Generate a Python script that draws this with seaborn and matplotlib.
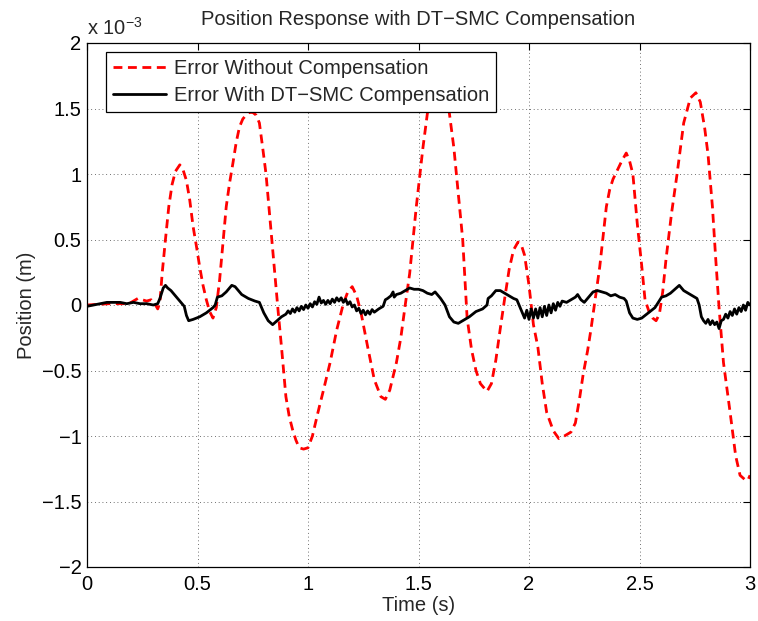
import numpy as np
import pandas as pd
import matplotlib
matplotlib.use("Agg")
import matplotlib.pyplot as plt
import seaborn as sns
from matplotlib.ticker import FuncFormatter, MultipleLocator

# ---------------- data (position error, units of 1e-3 m) ----------------
red_t = [0.00, 0.05, 0.10, 0.15, 0.19, 0.21, 0.23, 0.25, 0.27, 0.29, 0.31, 0.32, 0.33,
         0.34, 0.355, 0.37, 0.385, 0.40, 0.42, 0.435, 0.45, 0.465, 0.48, 0.495, 0.51,
         0.525, 0.54, 0.555, 0.57, 0.585, 0.60, 0.615, 0.63, 0.645, 0.66, 0.675, 0.69,
         0.705, 0.72, 0.735, 0.75, 0.765, 0.78, 0.795, 0.81, 0.83, 0.85, 0.865, 0.88,
         0.90, 0.915, 0.93, 0.945, 0.96, 0.98, 1.00, 1.02, 1.045, 1.07, 1.10, 1.13,
         1.16, 1.18, 1.20, 1.22, 1.24, 1.27, 1.30, 1.33, 1.35, 1.37, 1.40, 1.42, 1.44,
         1.46, 1.49, 1.52, 1.54, 1.565, 1.59, 1.615, 1.64, 1.66, 1.68, 1.70, 1.72, 1.74,
         1.76, 1.78, 1.81, 1.83, 1.85, 1.87, 1.89, 1.91, 1.93, 1.95, 1.965, 1.98, 2.00,
         2.02, 2.04, 2.06, 2.08, 2.11, 2.135, 2.16, 2.19, 2.21, 2.23, 2.245, 2.265, 2.28,
         2.30, 2.32, 2.335, 2.35, 2.365, 2.38, 2.40, 2.42, 2.44, 2.455, 2.47, 2.49, 2.51,
         2.525, 2.545, 2.56, 2.575, 2.59, 2.605, 2.62, 2.645, 2.67, 2.70, 2.73, 2.755,
         2.775, 2.795, 2.81, 2.83, 2.845, 2.86, 2.88, 2.91, 2.935, 2.955, 2.975, 2.99, 3.00]
red_v = [0.0, 0.005, 0.01, 0.01, 0.01, 0.03, 0.05, 0.04, 0.03, 0.04, 0.0, -0.03, 0.02,
         0.24, 0.5, 0.75, 0.92, 1.02, 1.07, 1.03, 0.95, 0.8, 0.6, 0.45, 0.29,
         0.15, 0.04, -0.05, -0.1, -0.02, 0.19, 0.47, 0.75, 0.93, 1.08, 1.24, 1.36,
         1.42, 1.45, 1.47, 1.47, 1.45, 1.39, 1.2, 1.0, 0.62, 0.24, -0.05, -0.32,
         -0.7, -0.85, -0.95, -1.03, -1.09, -1.1, -1.09, -1.0, -0.82, -0.65, -0.44, -0.19,
         0.01, 0.1, 0.14, 0.07, -0.06, -0.32, -0.57, -0.7, -0.72, -0.65, -0.44, -0.25, 0.0,
         0.24, 0.75, 1.2, 1.46, 1.68, 1.77, 1.7, 1.46, 1.2, 0.85, 0.5, -0.1, -0.34,
         -0.5, -0.6, -0.66, -0.6, -0.42, -0.18, 0.05, 0.27, 0.42, 0.48, 0.46, 0.38, 0.15,
         -0.15, -0.32, -0.6, -0.82, -0.96, -1.02, -1.0, -0.97, -0.9, -0.7, -0.53, -0.35, -0.19,
         0.05, 0.29, 0.52, 0.75, 0.88, 0.96, 1.03, 1.1, 1.16, 1.1, 1.0, 0.62, 0.3,
         0.04, -0.06, -0.1, -0.12, -0.07, 0.1, 0.35, 0.7, 1.0, 1.39, 1.58, 1.62,
         1.55, 1.35, 1.15, 0.75, 0.35, -0.02, -0.44, -0.82, -1.15, -1.3, -1.33, -1.34, -1.3]

blk_t = [0.00, 0.03, 0.06, 0.09, 0.12, 0.15, 0.18, 0.21, 0.24, 0.27, 0.30, 0.32, 0.33,
         0.345, 0.355, 0.365, 0.38, 0.40, 0.42, 0.44, 0.45, 0.46, 0.48, 0.51, 0.54, 0.57,
         0.58, 0.59, 0.61, 0.63, 0.645, 0.655, 0.67, 0.70, 0.73, 0.76, 0.78, 0.80, 0.82,
         0.84, 0.86, 0.88,
         0.90, 0.91, 0.92, 0.93, 0.94, 0.95, 0.96, 0.97, 0.98, 0.99, 1.00, 1.01, 1.02,
         1.03, 1.04, 1.05, 1.06, 1.07, 1.08, 1.09, 1.10, 1.11, 1.12, 1.13, 1.14, 1.15,
         1.16, 1.17, 1.18, 1.19, 1.20, 1.21, 1.22, 1.23, 1.24, 1.25, 1.26, 1.27, 1.28,
         1.29, 1.30,
         1.32, 1.34, 1.35, 1.36, 1.375, 1.385, 1.39, 1.40, 1.42, 1.44, 1.46, 1.48, 1.50,
         1.52, 1.54, 1.56, 1.575, 1.585, 1.60, 1.62, 1.64, 1.66, 1.68, 1.70, 1.73, 1.76,
         1.79, 1.81, 1.815, 1.83, 1.85, 1.87, 1.89, 1.91, 1.93, 1.945, 1.96, 1.97,
         1.98, 1.99, 2.00, 2.01, 2.02, 2.03, 2.04, 2.05, 2.06, 2.07, 2.08, 2.09, 2.10,
         2.11, 2.12, 2.13, 2.14,
         2.15, 2.17, 2.19, 2.21, 2.22, 2.235, 2.25, 2.27, 2.29, 2.31, 2.33, 2.35, 2.37,
         2.39, 2.41, 2.43, 2.44, 2.455, 2.47, 2.49, 2.51, 2.54, 2.57, 2.585, 2.60, 2.62,
         2.64, 2.66, 2.68, 2.70, 2.72, 2.74, 2.76, 2.77, 2.78, 2.79,
         2.80, 2.81, 2.82, 2.83, 2.84, 2.85, 2.86, 2.87, 2.88, 2.89, 2.90, 2.91, 2.92,
         2.93, 2.94, 2.95, 2.96, 2.97, 2.98, 2.99, 3.00]
blk_v = [-0.01, 0.0, 0.01, 0.02, 0.02, 0.02, 0.01, 0.02, 0.01, 0.01, 0.0, 0.01, 0.05,
         0.13, 0.15, 0.13, 0.11, 0.07, 0.03, -0.01, -0.08, -0.12, -0.11, -0.09, -0.06, -0.02,
         0.0, 0.06, 0.07, 0.1, 0.13, 0.15, 0.14, 0.08, 0.05, 0.03, 0.02, -0.06, -0.12,
         -0.15, -0.12, -0.09,
         -0.07, -0.045, -0.065, -0.03, -0.055, -0.02, -0.045, -0.01, -0.035, 0.0, -0.025,
         0.01, -0.015, 0.025, 0.005, 0.06, 0.015, 0.035, 0.005, 0.035, 0.01, 0.045, 0.02,
         0.055, 0.03, 0.055, 0.02, 0.045, 0.005, 0.025, -0.015, 0.0, -0.045, -0.025,
         -0.065, -0.04, -0.075, -0.045, -0.07, -0.035, -0.055,
         -0.03, -0.01, 0.04, 0.05, 0.07, 0.10, 0.06, 0.08, 0.09, 0.11, 0.13, 0.12, 0.12,
         0.11, 0.09, 0.08, 0.10, 0.08, 0.05, 0.0, -0.09, -0.13, -0.14, -0.12, -0.09, -0.05,
         -0.03, 0.0, 0.05, 0.07, 0.11, 0.11, 0.09, 0.07, 0.05, 0.04, -0.02, -0.06,
         -0.10, -0.04, -0.11, -0.03, -0.10, -0.03, -0.10, -0.02, -0.09, -0.01, -0.08, 0.0,
         -0.06, 0.01, -0.04, 0.02, -0.01,
         0.03, 0.02, 0.04, 0.06, 0.08, 0.04, 0.02, 0.06, 0.10, 0.11, 0.10, 0.09, 0.07,
         0.08, 0.06, 0.05, 0.03, -0.06, -0.10, -0.11, -0.10, -0.06, -0.02, 0.02, 0.06, 0.07,
         0.09, 0.12, 0.15, 0.11, 0.09, 0.07, 0.05, 0.0, -0.09, -0.12,
         -0.14, -0.11, -0.15, -0.12, -0.15, -0.13, -0.18, -0.12, -0.11, -0.07, -0.10, -0.05,
         -0.08, -0.03, -0.07, -0.02, -0.05, 0.0, -0.04, 0.02, 0.0]

label_red = "Error Without Compensation"
label_blk = "Error With DT\u2212SMC Compensation"
title = "Position Response with DT\u2212SMC Compensation"
xlabel = "Time (s)"
ylabel = "Position (m)"

df = pd.concat([
    pd.DataFrame({"t": red_t, "v": red_v, "series": label_red}),
    pd.DataFrame({"t": blk_t, "v": blk_v, "series": label_blk}),
], ignore_index=True)

# ---------------- style ----------------
sns.set_style("white")
plt.rcParams["font.family"] = ["Liberation Sans", "DejaVu Sans"]
plt.rcParams["axes.unicode_minus"] = True
FS = 14.5

fig = plt.figure(figsize=(7.58, 6.21), dpi=100)
ax = fig.add_axes([87 / 758, (621 - 567) / 621, (750 - 87) / 758, (567 - 43) / 621])

sns.lineplot(data=df, x="t", y="v", hue="series", style="series",
             palette={label_red: "#ff0000", label_blk: "#000000"},
             dashes={label_red: (3.2, 2.0), label_blk: ""},
             estimator=None, sort=False, linewidth=2.0, ax=ax, legend=True)

ax.set_xlim(0, 3)
ax.set_ylim(-2, 2)
ax.xaxis.set_major_locator(MultipleLocator(0.5))
ax.yaxis.set_major_locator(MultipleLocator(0.5))
fmt = FuncFormatter(lambda v, p: ("%g" % v).replace("-", "\u2212"))
ax.xaxis.set_major_formatter(fmt)
ax.yaxis.set_major_formatter(fmt)

ax.grid(True, color="black", linestyle=(0, (1, 3.5)), linewidth=0.6, alpha=0.75)
ax.tick_params(direction="in", length=5, width=0.8, top=True, right=True,
               labelsize=FS, colors="black")
ax.tick_params(axis="x", pad=6)
ax.tick_params(axis="y", pad=4)
for s in ax.spines.values():
    s.set_color("black")
    s.set_linewidth(0.9)

ax.set_xlabel(xlabel, fontsize=FS, labelpad=1)
ax.set_ylabel(ylabel, fontsize=FS, labelpad=4)
ax.set_title(title, fontsize=FS, pad=13)

ax.text(0.0, 1.008, "x 10$^{\\mathregular{\u22123}}$", transform=ax.transAxes,
        fontsize=FS, ha="left", va="bottom")

h, l = ax.get_legend_handles_labels()
leg = ax.legend(h, l, loc="upper left", bbox_to_anchor=(0.029, 0.983),
                borderaxespad=0, fontsize=FS, frameon=True, fancybox=False,
                edgecolor="black", framealpha=1, handlelength=2.6,
                borderpad=0.35, labelspacing=0.42, handletextpad=0.4)
leg.get_frame().set_linewidth(0.9)

fig.savefig("out.png", dpi=100)
